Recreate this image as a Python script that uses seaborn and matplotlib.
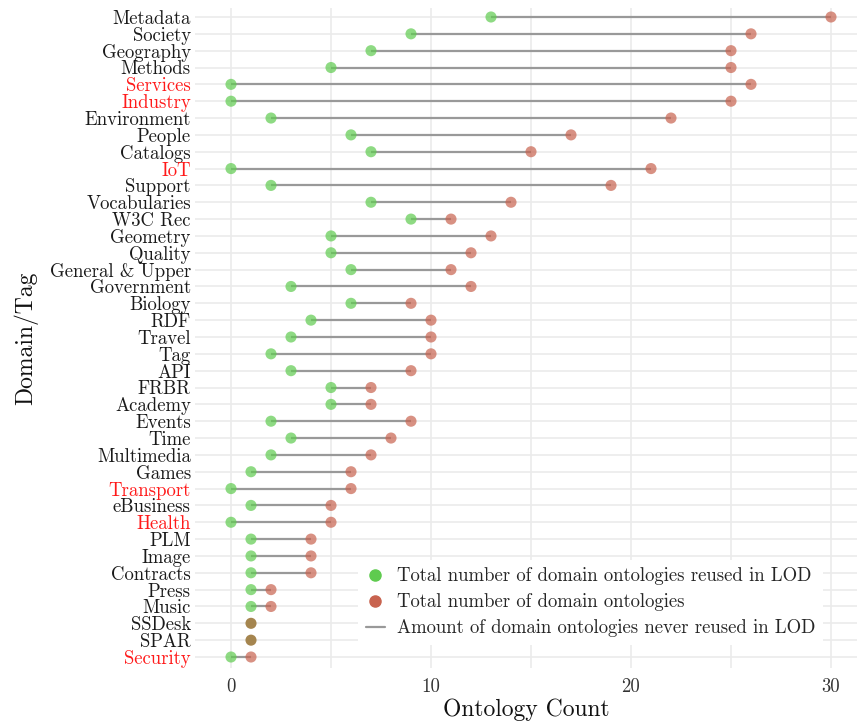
import numpy as np
import pandas as pd
import matplotlib
matplotlib.use("Agg")
import matplotlib.pyplot as plt
from matplotlib.lines import Line2D
import seaborn as sns

domains = ["Metadata", "Society", "Geography", "Methods", "Services", "Industry",
           "Environment", "People", "Catalogs", "IoT", "Support", "Vocabularies",
           "W3C Rec", "Geometry", "Quality", "General & Upper", "Government",
           "Biology", "RDF", "Travel", "Tag", "API", "FRBR", "Academy", "Events",
           "Time", "Multimedia", "Games", "Transport", "eBusiness", "Health",
           "PLM", "Image", "Contracts", "Press", "Music", "SSDesk", "SPAR", "Security"]
reused = [13, 9, 7, 5, 0, 0, 2, 6, 7, 0, 2, 7, 9, 5, 5, 6, 3, 6, 4, 3, 2, 3, 5, 5,
          2, 3, 2, 1, 0, 1, 0, 1, 1, 1, 1, 1, 1, 1, 0]
total = [30, 26, 25, 25, 26, 25, 22, 17, 15, 21, 19, 14, 11, 13, 12, 11, 12, 9, 10,
         10, 10, 9, 7, 7, 9, 8, 7, 6, 6, 5, 5, 4, 4, 4, 2, 2, 1, 1, 1]
highlighted = ["Services", "Industry", "IoT", "Transport", "Health", "Security"]
xticks_major = [0, 10, 20, 30]
xticks_minor = [5, 15, 25]

legend_labels = ["Total number of domain ontologies reused in LOD",
                 "Total number of domain ontologies",
                 "Amount of domain ontologies never reused in LOD"]

df = pd.DataFrame({"domain": domains, "reused": reused, "total": total})
df["pos"] = np.arange(len(df))
df["same"] = df["reused"] == df["total"]

sns.set_theme(style="white")
plt.rcParams["font.family"] = ["cmr10", "DejaVu Serif"]
plt.rcParams["axes.unicode_minus"] = False
plt.rcParams["axes.formatter.use_mathtext"] = True

GREEN = "#5fcb4f"
RED = "#c8634f"
LINE = "#999999"
BOTH = "#a07f45"
FS = 13.5

fig = plt.figure(figsize=(8.57, 7.26), dpi=100)
W, H = 857, 726
left_px, right_px, top_px, bot_px = 195, 857, 8, 668
ax = fig.add_axes([left_px / W, 1 - bot_px / H, (right_px - left_px) / W, (bot_px - top_px) / H])

ax.hlines(df["pos"], df["reused"], df["total"], color=LINE, linewidth=1.6, zorder=2)
diff = df[~df["same"]]
same = df[df["same"]]
sns.scatterplot(data=diff, x="reused", y="pos", color=GREEN, s=64, alpha=0.7,
                edgecolor="none", ax=ax, zorder=3, legend=False)
sns.scatterplot(data=diff, x="total", y="pos", color=RED, s=64, alpha=0.7,
                edgecolor="none", ax=ax, zorder=3, legend=False)
sns.scatterplot(data=same, x="total", y="pos", color=BOTH, s=64, alpha=0.95,
                edgecolor="none", ax=ax, zorder=3, legend=False)

ax.set_xlim((left_px - 231) / 20, (right_px - 231) / 20)
n = len(df)
ax.set_ylim(n - 1 + 0.653, -0.534)
ax.set_yticks(df["pos"])
ax.set_yticklabels(df["domain"])
for lbl in ax.get_yticklabels():
    lbl.set_color("#ff1a1a" if lbl.get_text() in highlighted else "#1a1a1a")
ax.set_xticks(xticks_major)
ax.set_xticks(xticks_minor, minor=True)
ax.set_xticklabels([str(v) for v in xticks_major])

ax.grid(True, which="both", axis="x", color="#ebebeb", linewidth=1.2, zorder=0)
ax.grid(True, which="major", axis="y", color="#ebebeb", linewidth=1.2, zorder=0)
ax.set_axisbelow(True)
for s in ax.spines.values():
    s.set_visible(False)
ax.tick_params(axis="y", length=0, pad=3, labelsize=FS)
ax.tick_params(axis="x", which="both", length=0, pad=7, labelsize=FS, labelcolor="#333333")

ax.set_xlabel("Ontology Count", fontsize=17, labelpad=2, color="#111111")
ax.set_ylabel("Domain/Tag", fontsize=17, labelpad=8, color="#111111")

handles = [Line2D([], [], marker="o", linestyle="none", color=GREEN, markersize=8),
           Line2D([], [], marker="o", linestyle="none", color=RED, markersize=8),
           Line2D([], [], color=LINE, linewidth=1.6)]
leg = ax.legend(handles, legend_labels, loc="lower right",
                bbox_to_anchor=(832 / W, 1 - 654 / H), bbox_transform=fig.transFigure,
                fontsize=FS, frameon=True, framealpha=1, facecolor="white",
                edgecolor="none", fancybox=False, handlelength=1.0,
                handletextpad=0.65, labelspacing=0.42, borderpad=0.4)
leg.set_zorder(5)

fig.savefig("out.png", dpi=100)
